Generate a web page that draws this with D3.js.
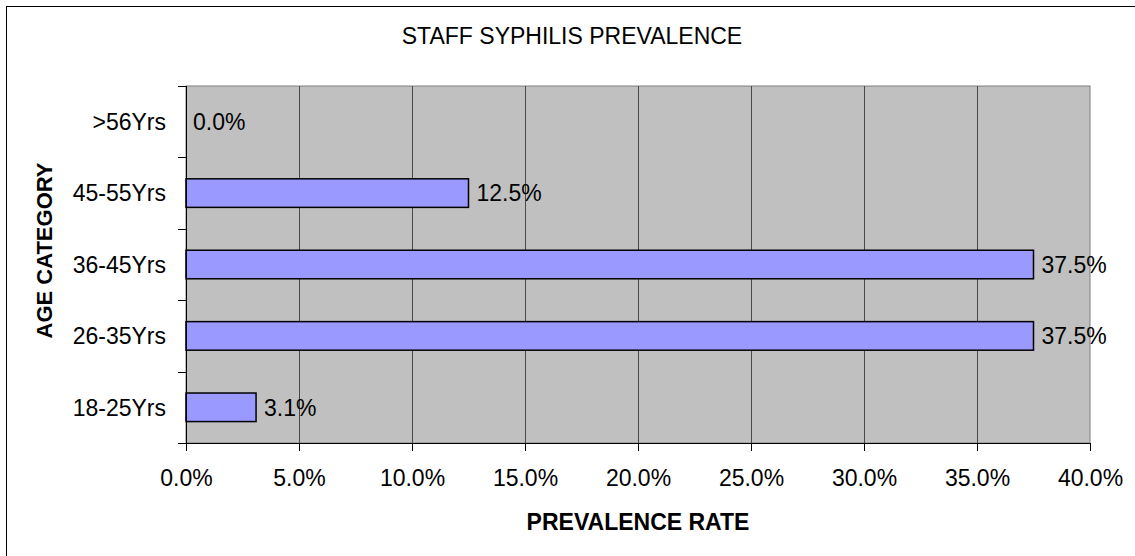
<!DOCTYPE html>
<html>
<head>
<meta charset="utf-8">
<script src="https://cdn.jsdelivr.net/npm/d3@7"></script>
<style>
  body { margin: 0; background: #fff; }
  svg text { font-family: "Liberation Sans", Arial, sans-serif; fill: #000; }
</style>
</head>
<body>
<div id="chart"></div>
<script>
(function(){
    "use strict";

    // data
    var categories = ["18-25Yrs", "26-35Yrs", "36-45Yrs", "45-55Yrs", ">56Yrs"];
    var prevalence = [3.1, 37.5, 37.5, 12.5, 0.0];
    var xTicks = [0, 5, 10, 15, 20, 25, 30, 35, 40];
    var chartTitle = "STAFF SYPHILIS PREVALENCE";
    var xTitle = "PREVALENCE RATE";
    var yTitle = "AGE CATEGORY";

    var W = 1135, H = 556;
    var margin = {top: 86, right: 45, bottom: 113, left: 186},
        width = W - margin.left - margin.right,
        height = H - margin.top - margin.bottom;

    var svg = d3.select("#chart").append("svg")
        .attr("width", W)
        .attr("height", H);

    // outer frame
    svg.append("rect")
        .attr("x", 6.5).attr("y", 6.5)
        .attr("width", W + 20).attr("height", H + 20)
        .attr("fill", "none")
        .attr("stroke", "#000")
        .attr("stroke-width", 1);

    var g = svg.append("g")
        .attr("transform", "translate(" + margin.left + "," + margin.top + ")");

    // scales
    var x = d3.scaleLinear().domain([0, 40]).range([0, width]);
    var y = d3.scaleBand()
        .domain(categories.slice().reverse())
        .range([0, height])
        .paddingInner(0.6)
        .paddingOuter(0.3);

    // plot background
    g.append("rect")
        .attr("width", width).attr("height", height)
        .attr("fill", "#C0C0C0")
        .attr("stroke", "#808080")
        .attr("stroke-width", 1);

    // vertical gridlines
    g.selectAll(".grid")
        .data(xTicks.filter(function(d) { return d > 0 && d < 40; }))
        .enter().append("line")
        .attr("class", "grid")
        .attr("x1", function(d) { return Math.round(x(d)) + 0.5; })
        .attr("x2", function(d) { return Math.round(x(d)) + 0.5; })
        .attr("y1", 0).attr("y2", height)
        .attr("stroke", "#4a4a4a")
        .attr("stroke-width", 1);

    // bars
    g.selectAll(".bar")
        .data(prevalence.map(function(v, i) { return {cat: categories[i], val: v}; }))
        .enter().append("rect")
        .attr("class", "bar")
        .filter(function(d) { return d.val > 0; })
        .attr("x", 0)
        .attr("y", function(d) { return y(d.cat); })
        .attr("width", function(d) { return x(d.val); })
        .attr("height", y.bandwidth())
        .attr("fill", "#9999FF")
        .attr("stroke", "#000")
        .attr("stroke-width", 1.5);

    // value labels
    g.selectAll(".lbl")
        .data(prevalence.map(function(v, i) { return {cat: categories[i], val: v}; }))
        .enter().append("text")
        .attr("class", "lbl")
        .attr("x", function(d) { return x(d.val) + (d.val > 0 ? 8 : 7); })
        .attr("y", function(d) { return y(d.cat) + y.bandwidth() / 2; })
        .attr("dy", "0.36em")
        .style("font-size", "23px")
        .text(function(d) { return d.val.toFixed(1) + "%"; });

    // x axis
    var xAxis = g.append("g")
        .attr("transform", "translate(0," + height + ")")
        .call(d3.axisBottom(x).tickValues(xTicks)
            .tickSize(8).tickPadding(19)
            .tickFormat(function(d) { return d.toFixed(1) + "%"; }));
    xAxis.select(".domain").attr("stroke", "#000");
    xAxis.selectAll(".tick line").attr("stroke", "#000");
    xAxis.selectAll("text").style("font-size", "23px")
        .style("font-family", "'Liberation Sans', Arial, sans-serif")
        .attr("fill", "#000");

    // y axis: ticks at band boundaries
    var boundaries = d3.range(categories.length + 1).map(function(i) { return i * height / categories.length; });
    var yAxis = g.append("g");
    yAxis.append("line")
        .attr("x1", 0.5).attr("x2", 0.5)
        .attr("y1", 0).attr("y2", height)
        .attr("stroke", "#000");
    yAxis.selectAll(".ytick")
        .data(boundaries)
        .enter().append("line")
        .attr("class", "ytick")
        .attr("x1", -8).attr("x2", 0)
        .attr("y1", function(d) { return Math.round(d) + 0.5; })
        .attr("y2", function(d) { return Math.round(d) + 0.5; })
        .attr("stroke", "#000");
    yAxis.selectAll(".ylabel")
        .data(categories)
        .enter().append("text")
        .attr("class", "ylabel")
        .attr("x", -20)
        .attr("y", function(d) { return y(d) + y.bandwidth() / 2; })
        .attr("dy", "0.36em")
        .attr("text-anchor", "end")
        .style("font-size", "23px")
        .text(function(d) { return d; });

    // titles
    svg.append("text")
        .attr("x", 572).attr("y", 44)
        .attr("text-anchor", "middle")
        .style("font-size", "23px")
        .text(chartTitle);

    svg.append("text")
        .attr("x", margin.left + width / 2).attr("y", 530)
        .attr("text-anchor", "middle")
        .style("font-size", "23px")
        .style("font-weight", "bold")
        .text(xTitle);

    svg.append("text")
        .attr("transform", "translate(52," + (margin.top + height / 2 - 14) + ") rotate(-90)")
        .attr("text-anchor", "middle")
        .style("font-size", "22px")
        .style("font-weight", "bold")
        .text(yTitle);
})();
</script>
</body>
</html>
